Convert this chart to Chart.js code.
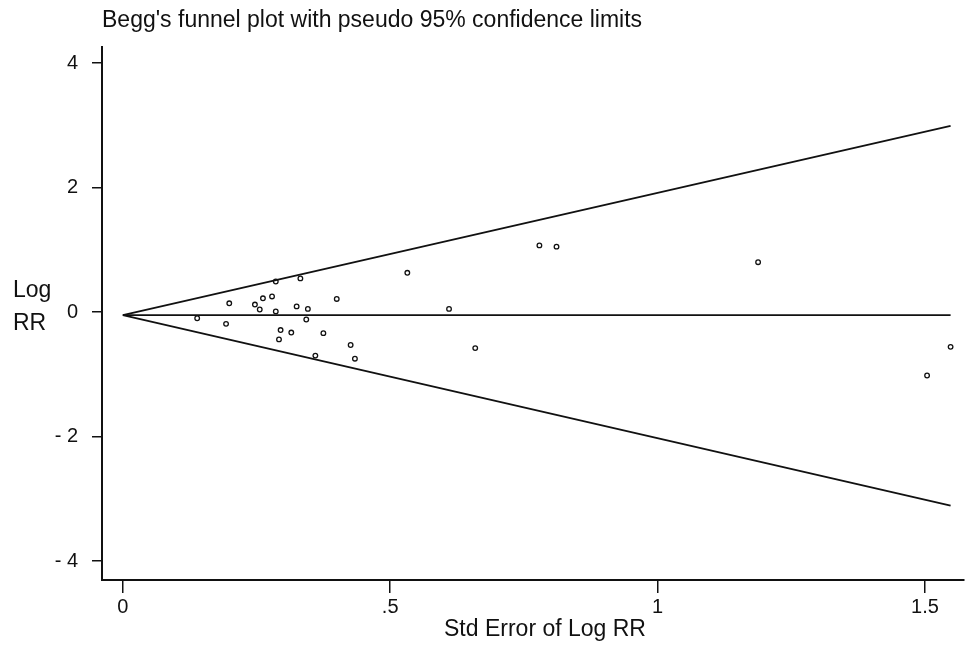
<!DOCTYPE html>
<html>
<head>
<meta charset="utf-8">
<title>Begg's funnel plot</title>
<script src="https://cdn.jsdelivr.net/npm/chart.js@4.4.1/dist/chart.umd.min.js"></script>
<style>
  html, body { margin: 0; padding: 0; background: #fff; }
  #wrap { width: 969px; height: 645px; }
</style>
</head>
<body>
<div id="wrap"><canvas id="funnelChart" width="969" height="645"></canvas></div>
<script>
// data
const stdErr = [0.139, 0.199, 0.193, 0.247, 0.256, 0.262, 0.279, 0.286, 0.286, 0.332,
                0.295, 0.292, 0.315, 0.325, 0.346, 0.343, 0.360, 0.375, 0.400, 0.426,
                0.434, 0.532, 0.610, 0.659, 0.779, 0.811, 1.188, 1.548, 1.504];
const logRR  = [-0.10, 0.14, -0.19, 0.12, 0.04, 0.22, 0.25, 0.49, 0.01, 0.54,
                -0.29, -0.44, -0.33, 0.09, 0.05, -0.12, -0.70, -0.34, 0.21, -0.53,
                -0.75, 0.63, 0.05, -0.58, 1.07, 1.05, 0.80, -0.56, -1.02];

// pseudo 95% confidence limits (end points of the funnel)
const limitSE    = [0, 1.548];
const upperLimit = [-0.05, 2.99];
const lowerLimit = [-0.05, -3.11];
const pooledLine = [-0.05, -0.05];

const xTicks = [0, 0.5, 1, 1.5];
const yTicks = [-4, -2, 0, 2, 4];

const chartTitle = "Begg's funnel plot with pseudo 95% confidence limits";
const xTitle = 'Std Error of Log RR';
const yTitle = ['Log', 'RR'];

const FONT = '"Liberation Sans", Arial, sans-serif';

function toPoints(xs, ys) {
    return xs.map((x, i) => ({ x: x, y: ys[i] }));
}

// titles are drawn by hand to get the Stata-like layout
const textPlugin = {
    id: 'stataText',
    afterDraw(chart) {
        const ctx = chart.ctx;
        const area = chart.chartArea;
        ctx.save();
        ctx.fillStyle = '#111';
        ctx.font = '23px ' + FONT;
        ctx.textBaseline = 'alphabetic';
        ctx.textAlign = 'left';
        ctx.fillText(chartTitle, area.left, 27);
        ctx.fillText(yTitle[0], 13, 297);
        ctx.fillText(yTitle[1], 13, 330);
        ctx.textAlign = 'center';
        ctx.fillText(xTitle, 545, 636);
        ctx.restore();
    }
};

const lineStyle = {
    showLine: true,
    borderColor: '#111',
    borderWidth: 1.8,
    pointRadius: 0,
    fill: false
};

const ctx = document.getElementById('funnelChart').getContext('2d');
new Chart(ctx, {
    type: 'scatter',
    data: {
        datasets: [
            Object.assign({ label: 'Upper limit', data: toPoints(limitSE, upperLimit) }, lineStyle),
            Object.assign({ label: 'Lower limit', data: toPoints(limitSE, lowerLimit) }, lineStyle),
            Object.assign({ label: 'Pooled', data: toPoints(limitSE, pooledLine) }, lineStyle),
            {
                label: 'Studies',
                data: toPoints(stdErr, logRR),
                pointStyle: 'circle',
                pointRadius: 2.3,
                pointBorderWidth: 1.3,
                pointBackgroundColor: '#fff',
                pointBorderColor: '#111',
                showLine: false
            }
        ]
    },
    options: {
        responsive: false,
        animation: false,
        layout: { padding: { top: 47, left: 0, right: 0, bottom: 0 } },
        plugins: {
            legend: { display: false },
            title: { display: false },
            tooltip: { enabled: false }
        },
        scales: {
            x: {
                type: 'linear',
                min: -0.039,
                max: 1.5725,
                afterBuildTicks: scale => { scale.ticks = xTicks.map(v => ({ value: v })); },
                afterFit: scale => { scale.height = 65; },
                grid: { drawOnChartArea: false, drawTicks: true, tickLength: 13, color: '#111', lineWidth: 1.5 },
                border: { display: true, color: '#111', width: 2 },
                ticks: {
                    autoSkip: false,
                    maxRotation: 0,
                    padding: 2,
                    color: '#111',
                    font: { family: FONT, size: 20 },
                    callback: v => (v === 0 ? '0' : String(v).replace(/^0\./, '.'))
                }
            },
            y: {
                type: 'linear',
                min: -4.305,
                max: 4.257,
                afterBuildTicks: scale => { scale.ticks = yTicks.map(v => ({ value: v })); },
                afterFit: scale => { scale.width = 102; },
                grid: { drawOnChartArea: false, drawTicks: true, tickLength: 10, color: '#111', lineWidth: 1.5 },
                border: { display: true, color: '#111', width: 2 },
                ticks: {
                    autoSkip: false,
                    padding: 14,
                    color: '#111',
                    font: { family: FONT, size: 20 },
                    callback: v => (v < 0 ? '- ' + Math.abs(v) : String(v))
                }
            }
        }
    },
    plugins: [textPlugin]
});
</script>
</body>
</html>
